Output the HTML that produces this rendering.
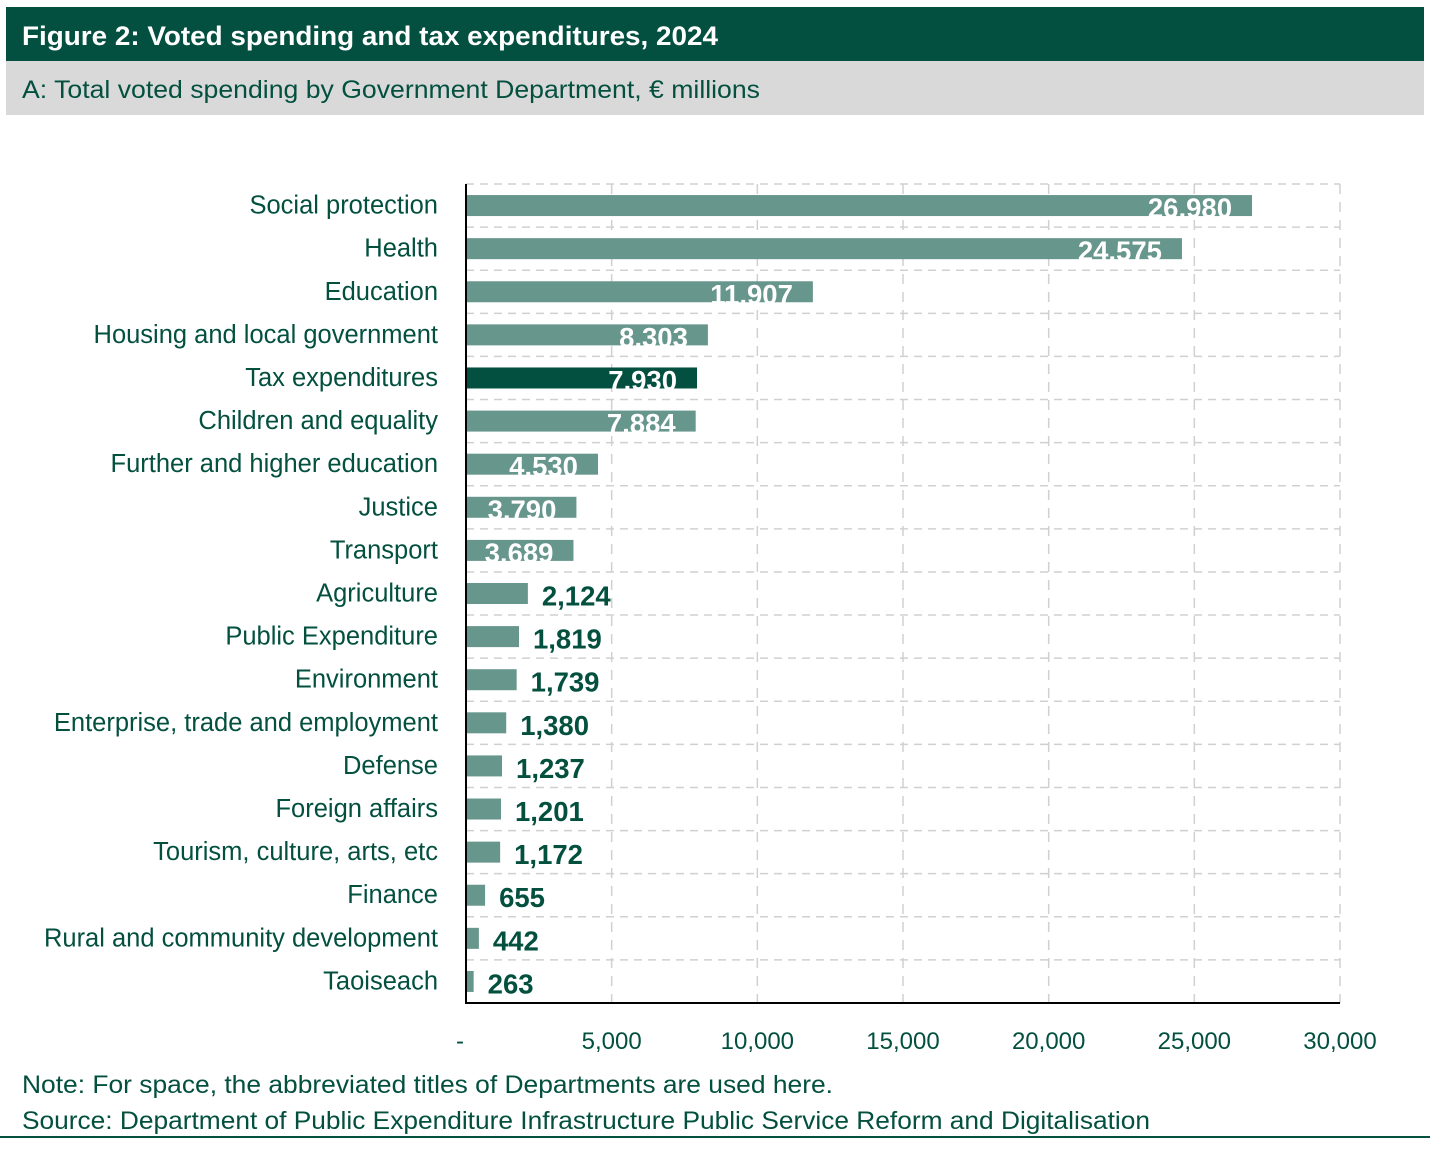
<!DOCTYPE html>
<html><head><meta charset="utf-8"><style>
body{margin:0;background:#fff;width:1456px;height:1146px;overflow:hidden}
svg text{font-family:"Liberation Sans",sans-serif}
</style></head><body>
<svg id="chart" width="1456" height="1146" xmlns="http://www.w3.org/2000/svg">
<rect x="6" y="7" width="1418" height="54" fill="#034f40"/>
<text x="22" y="45" fill="#fff" font-size="27" font-weight="bold" textLength="696" lengthAdjust="spacingAndGlyphs">Figure 2: Voted spending and tax expenditures, 2024</text>
<rect x="6" y="61" width="1418" height="54" fill="#d9d9d9"/>
<text x="22" y="98" fill="#03503f" font-size="25" textLength="738" lengthAdjust="spacingAndGlyphs">A: Total voted spending by Government Department, € millions</text>
<g id="grid"></g>
<g id="bars"></g>
<g id="labels"></g>
<g id="ticks"></g>
<line x1="466" y1="184" x2="466" y2="1004" stroke="#000" stroke-width="2"/>
<line x1="466" y1="1003" x2="1340" y2="1003" stroke="#000" stroke-width="2"/>
<text x="22" y="1093" fill="#03503f" font-size="25" textLength="811" lengthAdjust="spacingAndGlyphs">Note: For space, the abbreviated titles of Departments are used here.</text>
<text x="22" y="1129" fill="#03503f" font-size="25" textLength="1128" lengthAdjust="spacingAndGlyphs">Source: Department of Public Expenditure Infrastructure Public Service Reform and Digitalisation</text>
<line x1="0" y1="1137" x2="1430" y2="1137" stroke="#03503f" stroke-width="2"/>
</svg>
<script>
const categories=["Social protection","Health","Education","Housing and local government","Tax expenditures","Children and equality","Further and higher education","Justice","Transport","Agriculture","Public Expenditure","Environment","Enterprise, trade and employment","Defense","Foreign affairs","Tourism, culture, arts, etc","Finance","Rural and community development","Taoiseach"];
const values=[26980,24575,11907,8303,7930,7884,4530,3790,3689,2124,1819,1739,1380,1237,1201,1172,655,442,263];
const highlight=["Tax expenditures"];
const tickValues=[0,5000,10000,15000,20000,25000,30000];
const tickLabels=["-","5,000","10,000","15,000","20,000","25,000","30,000"];
(function(){
const NS="http://www.w3.org/2000/svg";
const x0=466,x1=1340,yTop=184,yBottom=1003,xmax=30000;
const xs=v=>x0+(v/xmax)*(x1-x0);
const band=(yBottom-yTop)/categories.length;
const ys=i=>yTop+band*i;
function mk(tag,attrs,parent){const e=document.createElementNS(NS,tag);for(const k in attrs)e.setAttribute(k,attrs[k]);parent.appendChild(e);return e;}
const grid=document.getElementById('grid'),bars=document.getElementById('bars'),labels=document.getElementById('labels'),ticks=document.getElementById('ticks');
for(let i=0;i<=categories.length;i++){
  const l=mk('line',{x1:x0,x2:x1,y1:ys(i),y2:ys(i),stroke:'#d0d0d0','stroke-width':1.5,'stroke-dasharray':'8 6'},grid);
  
  
}
tickValues.forEach((v,i)=>{
  if(v>0){
    const l=mk('line',{x1:xs(v),x2:xs(v),y1:yTop,y2:yBottom,stroke:'#d0d0d0','stroke-width':1.5,'stroke-dasharray':'10 8'},grid);
    
    
  }
  const t=mk('text',{x:v===0?xs(v)-6:xs(v),y:1049,'text-anchor':'middle','font-size':24,fill:'#03503f'},ticks);
  t.textContent=tickLabels[i];
  
  
});
categories.forEach((c,i)=>{
  const cy=ys(i)+band/2;
  const hl=highlight.includes(c);
  const r=mk('rect',{x:x0,y:cy-10.5,width:xs(values[i])-x0,height:21,fill:hl?'#034f40':'#67968d'},bars);
  
  
  const t=mk('text',{x:438,y:cy+8,'text-anchor':'end','font-size':25.5,fill:'#03503f'},labels);
  t.textContent=c;
  
  
  const txt=values[i].toLocaleString('en-US');
  const inside=values[i]>3000;
  const vl=mk('text',{x:inside?xs(values[i])-20:xs(values[i])+14,y:cy+12,'text-anchor':inside?'end':'start','font-size':27.5,'font-weight':'bold',fill:inside?'#fff':'#03503f'},bars);
  vl.textContent=txt;
  
  
});
})();
</script>
</body></html>
